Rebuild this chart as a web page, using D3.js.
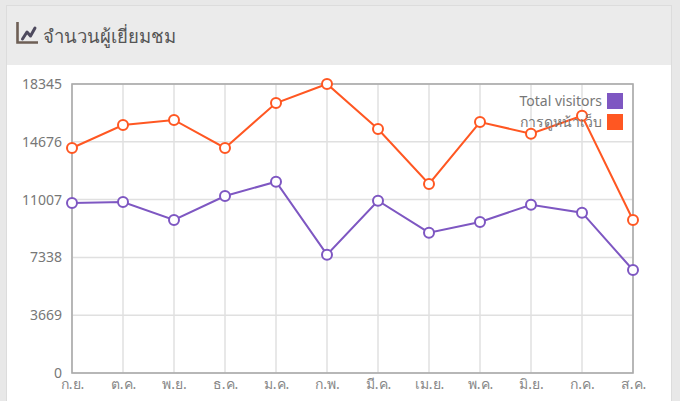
<!DOCTYPE html>
<html>
<head>
<meta charset="utf-8">
<script src="https://cdn.jsdelivr.net/npm/d3@7"></script>
<style>
  body { margin: 0; background: #e8e8e8; font-family: 'Noto Sans', sans-serif; }
  svg { display: block; }
</style>
</head>
<body>
<div id="chart"></div>
<script>
const months = ['ก.ย.', 'ต.ค.', 'พ.ย.', 'ธ.ค.', 'ม.ค.', 'ก.พ.', 'มี.ค.', 'เม.ย.', 'พ.ค.', 'มิ.ย.', 'ก.ค.', 'ส.ค.']
const visitors = [10791, 10855, 9712, 11236, 12143, 7510, 10937, 8906, 9585, 10683, 10175, 6538]
const pageViews = [14283, 15742, 16060, 14283, 17139, 18345, 15488, 11997, 15933, 15190, 16333, 9712]
const yTicks = [0, 3669, 7338, 11007, 14676, 18345]
const seriesNames = ['Total visitors', 'การดูหน้าเว็บ']
const seriesColors = ['#7e57c2', '#ff5722']
const title = 'จำนวนผู้เยี่ยมชม'

const width = 680
const height = 401
const margin = { left: 72, right: 47, top: 84, bottom: 28 }

const svg = d3.select('#chart')
  .append('svg')
  .attr('width', width)
  .attr('height', height)

// panel + header
svg.append('rect')
  .attr('x', 6.5).attr('y', 5.5)
  .attr('width', 665).attr('height', 400)
  .attr('fill', '#fff')
  .attr('stroke', '#dcdcdc')
svg.append('rect')
  .attr('x', 7).attr('y', 6)
  .attr('width', 664).attr('height', 59)
  .attr('fill', '#ebebeb')

// icon
const icon = svg.append('g').attr('fill', 'none')
icon.append('path')
  .attr('d', 'M17.5,22 V42.5 H38')
  .attr('stroke', '#6e5f55').attr('stroke-width', 2.6)
icon.append('path')
  .attr('d', 'M22.5,39 L27,32 L30.5,36 L35,28')
  .attr('stroke', '#4e4a5e').attr('stroke-width', 3)
  .attr('stroke-linejoin', 'round').attr('stroke-linecap', 'round')

svg.append('text')
  .attr('x', 43).attr('y', 43)
  .attr('font-size', 18.5)
  .attr('fill', '#555')
  .text(title)

const x = d3.scalePoint()
  .domain(months)
  .range([margin.left, width - margin.right])

const y = d3.scaleLinear()
  .domain([0, d3.max(yTicks)])
  .range([height - margin.bottom, margin.top])

// grid
svg.append('g')
  .selectAll('line')
  .data(yTicks)
  .enter()
  .append('line')
  .attr('x1', margin.left).attr('x2', width - margin.right)
  .attr('y1', (d) => y(d)).attr('y2', (d) => y(d))
  .attr('stroke', '#e0e0e0').attr('stroke-width', 1.5)

svg.append('g')
  .selectAll('line')
  .data(months)
  .enter()
  .append('line')
  .attr('x1', (d) => x(d)).attr('x2', (d) => x(d))
  .attr('y1', margin.top).attr('y2', height - margin.bottom)
  .attr('stroke', '#e0e0e0').attr('stroke-width', 1.5)

// frame
svg.append('rect')
  .attr('x', margin.left).attr('y', margin.top)
  .attr('width', width - margin.left - margin.right)
  .attr('height', height - margin.top - margin.bottom)
  .attr('fill', 'none')
  .attr('stroke', '#aaa').attr('stroke-width', 1.6)

// axes labels
const yAxis = d3.axisLeft(y).tickValues(yTicks).tickSize(0).tickPadding(10).tickFormat(d3.format('d'))
svg.append('g')
  .attr('transform', `translate(${margin.left},0)`)
  .call(yAxis)
  .call((g) => g.select('.domain').remove())
  .selectAll('text')
  .attr('font-family', "'Noto Sans', sans-serif")
  .attr('font-size', 14)
  .attr('fill', '#777')

const xAxis = d3.axisBottom(x).tickSize(0).tickPadding(6)
svg.append('g')
  .attr('transform', `translate(0,${height - margin.bottom})`)
  .call(xAxis)
  .call((g) => g.select('.domain').remove())
  .selectAll('text')
  .attr('font-family', "'Noto Sans', sans-serif")
  .attr('font-size', 14)
  .attr('fill', '#888')

// lines
const line = d3.line()
  .x((d, i) => x(months[i]))
  .y((d) => y(d))

const series = [visitors, pageViews]
series.forEach((data, s) => {
  svg.append('path')
    .attr('d', line(data))
    .attr('fill', 'none')
    .attr('stroke', seriesColors[s])
    .attr('stroke-width', 2)

  svg.append('g')
    .selectAll('circle')
    .data(data)
    .enter()
    .append('circle')
    .attr('cx', (d, i) => x(months[i]))
    .attr('cy', (d) => y(d))
    .attr('r', 5)
    .attr('fill', '#fff')
    .attr('stroke', seriesColors[s])
    .attr('stroke-width', 2)
})

// legend
const legend = svg.append('g')
  .selectAll('g')
  .data(seriesNames)
  .enter()
  .append('g')
  .attr('transform', (d, i) => `translate(607,${93 + i * 21})`)

legend.append('rect')
  .attr('width', 16).attr('height', 16)
  .attr('fill', (d, i) => seriesColors[i])

legend.append('text')
  .attr('x', -5).attr('y', 13)
  .attr('text-anchor', 'end')
  .attr('font-size', 14)
  .attr('fill', '#777')
  .text((d) => d)
</script>
</body>
</html>
